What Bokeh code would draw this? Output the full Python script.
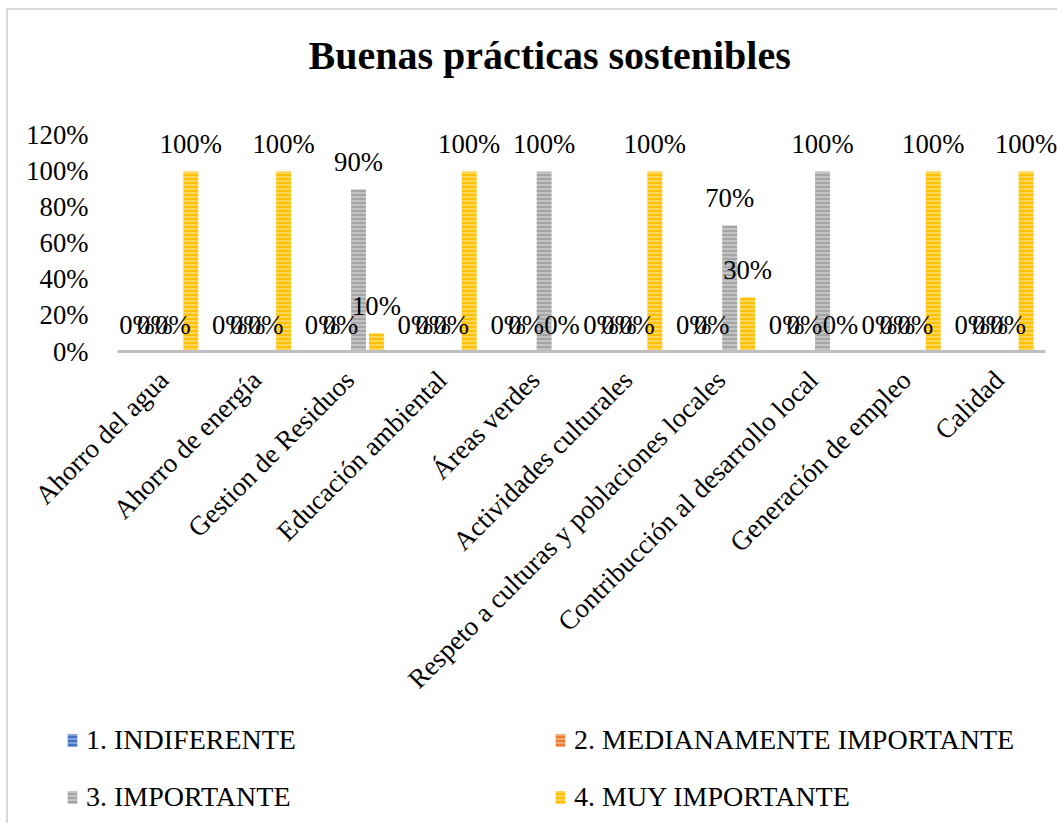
from bokeh.plotting import figure
from bokeh.layouts import column
from bokeh.models import (ColumnDataSource, Range1d, FixedTicker,
                          NumeralTickFormatter, LabelSet, Legend, LegendItem)
from bokeh.embed import file_html
from bokeh.resources import INLINE

categories = ["Ahorro del agua", "Ahorro de energía", "Gestion de Residuos",
              "Educación ambiental", "Áreas verdes", "Actividades culturales",
              "Respeto a culturas y poblaciones locales",
              "Contribucción al desarrollo local", "Generación de empleo", "Calidad"]
indiferente = [0, 0, 0, 0, 0, 0, 0, 0, 0, 0]
medianamente = [0, 0, 0, 0, 0, 0, 0, 0, 0, 0]
importante = [0, 0, 0.9, 0, 1.0, 0, 0.7, 1.0, 0, 0]
muy_importante = [1.0, 1.0, 0.1, 1.0, 0, 1.0, 0.3, 0, 1.0, 1.0]
series_names = ["1. INDIFERENTE", "2. MEDIANAMENTE IMPORTANTE", "3. IMPORTANTE", "4. MUY IMPORTANTE"]
series_values = [indiferente, medianamente, importante, muy_importante]
colors = ["#4472C4", "#ED7D31", "#A5A5A5", "#FFC000"]
offsets = [-0.29, -0.097, 0.097, 0.29]
y_ticks = [0, 0.2, 0.4, 0.6, 0.8, 1.0, 1.2]

FONT = "Liberation Serif"
W = 1049
n = len(categories)
centers = [k + 0.5 for k in range(n)]

data = dict(cat=categories, xc=centers)
for i, vals in enumerate(series_values):
    data[f"x{i}"] = [c + offsets[i] for c in centers]
    data[f"v{i}"] = vals
    data[f"l{i}"] = ["%d%%" % round(v * 100) for v in vals]
src = ColumnDataSource(data)

# ---------------- main chart ----------------
# frame runs a little past the last category so that the last data label is not clipped
p = figure(x_range=Range1d(0, n * 1.0129), y_range=Range1d(0, 1.4222),
           width=W, height=705, output_backend="svg", toolbar_location=None,
           min_border_left=109, min_border_right=0, min_border_top=85, min_border_bottom=364)
p.outline_line_color = None
p.xgrid.grid_line_color = None
p.ygrid.grid_line_color = None

p.title.text = "Buenas prácticas sostenibles"
p.title.text_font = FONT
p.title.text_font_size = "40px"
p.title.text_font_style = "bold"
p.title.align = "left"
p.title.offset = 191
p.title.text_color = "black"
p.title.standoff = 36

bar_style = dict(width=0.16, line_color=None, hatch_pattern="horizontal_line",
                 hatch_color="white", hatch_alpha=0.45, hatch_scale=4, hatch_weight=1.5)

for i in range(4):
    p.vbar(x=f"x{i}", top=f"v{i}", source=src, fill_color=colors[i], **bar_style)
    lab = LabelSet(x=f"x{i}", y=f"v{i}", text=f"l{i}",
                   source=src, text_align="center", text_baseline="alphabetic", y_offset=18,
                   text_font=FONT, text_font_size="26.7px", text_color="black")
    p.add_layout(lab)

p.yaxis.ticker = FixedTicker(ticks=y_ticks)
p.yaxis.formatter = NumeralTickFormatter(format="0%")
p.yaxis.axis_line_color = None
p.yaxis.major_tick_line_color = None
p.yaxis.minor_tick_line_color = None
p.yaxis.major_tick_out = 0
p.yaxis.major_tick_in = 0
p.yaxis.major_label_standoff = 29
p.yaxis.major_label_text_font = FONT
p.yaxis.major_label_text_font_size = "26.7px"
p.yaxis.major_label_text_color = "black"

p.xaxis.ticker = FixedTicker(ticks=centers)
p.xaxis.major_label_overrides = {c: name for c, name in zip(centers, categories)}
p.xaxis.bounds = (0, n)
p.xaxis.axis_line_color = "#BFBFBF"
p.xaxis.axis_line_width = 3
p.xaxis.major_tick_line_color = None
p.xaxis.minor_tick_line_color = None
p.xaxis.major_tick_out = 0
p.xaxis.major_tick_in = 0
p.xaxis.major_label_orientation = 0.785398
p.xaxis.major_label_standoff = 24
p.xaxis.major_label_text_font = FONT
p.xaxis.major_label_text_font_size = "27px"
p.xaxis.major_label_text_color = "black"

# ---------------- legend strip ----------------
lf = figure(x_range=Range1d(0, n), y_range=Range1d(0, 1),
            width=W, height=108, output_backend="svg", toolbar_location=None,
            x_axis_location=None, y_axis_location=None,
            min_border_left=0, min_border_right=0, min_border_top=0, min_border_bottom=0)
lf.frame_align = False
lf.outline_line_color = None
lf.xgrid.grid_line_color = None
lf.ygrid.grid_line_color = None

items = []
for i in range(4):
    r = lf.vbar(x=f"x{i}", top=f"v{i}", source=src, fill_color=colors[i],
                visible=False, **bar_style)
    items.append(LegendItem(label=series_names[i], renderers=[r]))

leg_style = dict(orientation="horizontal", glyph_width=12, glyph_height=16, label_standoff=8,
                 label_width=444, spacing=24, padding=0, margin=0, border_line_color=None,
                 background_fill_alpha=0, inactive_fill_alpha=0,
                 label_text_font=FONT, label_text_font_size="28px", label_text_color="black")
leg1 = Legend(items=items[:2], location=(58, 67), **leg_style)
leg2 = Legend(items=items[2:], location=(58, 10), **leg_style)
lf.add_layout(leg1, "center")
lf.add_layout(leg2, "center")

layout = column(p, lf, spacing=0)
layout.styles = {"margin-left": "6px", "margin-top": "8px",
                 "border-left": "2px solid #D9D9D9", "border-top": "2px solid #D9D9D9"}

open("out.html", "w").write(file_html(layout, INLINE))
